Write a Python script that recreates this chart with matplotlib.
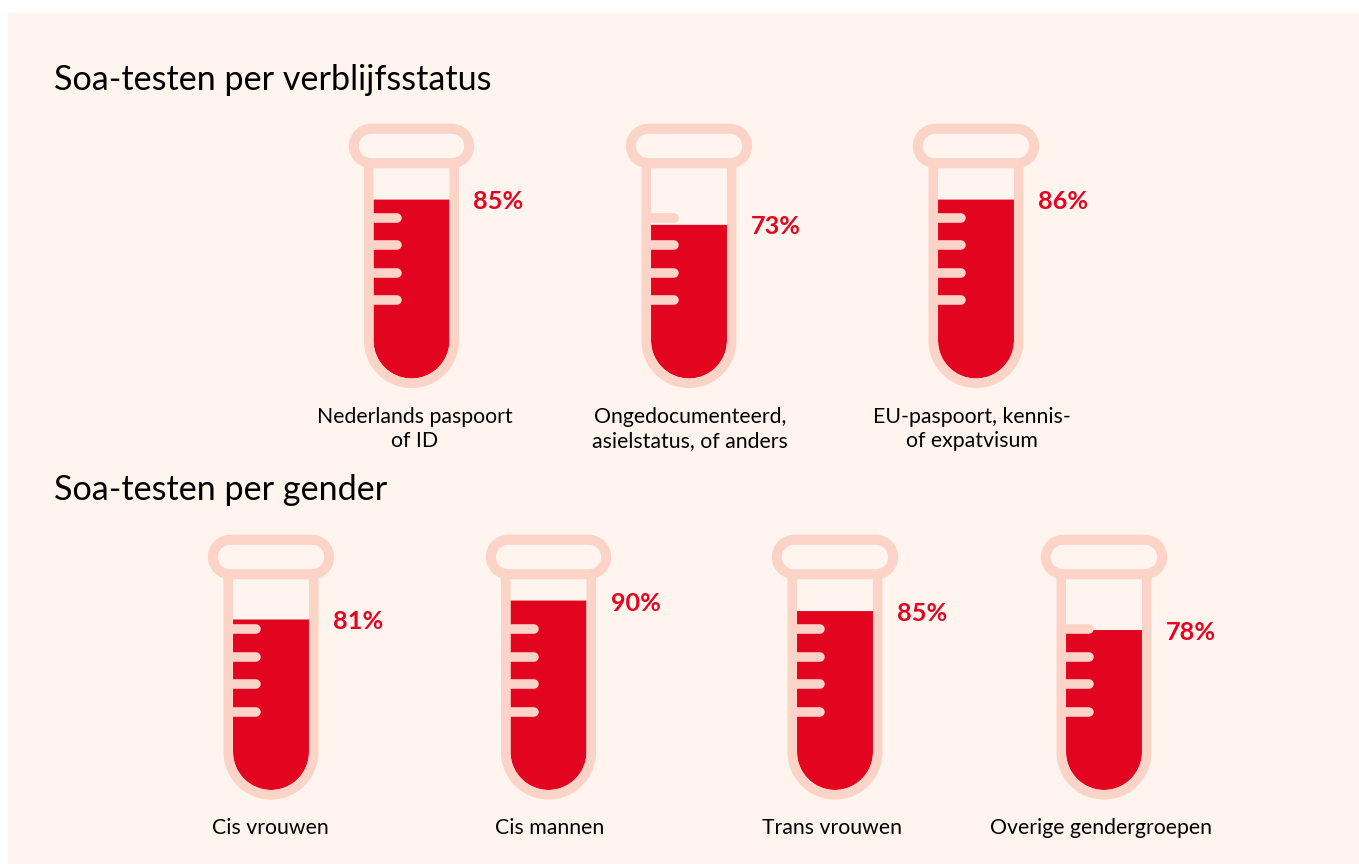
import matplotlib
matplotlib.use("Agg")
import matplotlib.pyplot as plt
from matplotlib.patches import PathPatch, Rectangle
from matplotlib.path import Path

plt.rcParams['font.family'] = ['Lato', 'DejaVu Sans']

# data
status_labels = ["Nederlands paspoort\nof ID", "Ongedocumenteerd,\nasielstatus, of anders", "EU-paspoort, kennis-\nof expatvisum"]
status_texts = ["85%", "73%", "86%"]
status_levels = [85, 73, 85]   # height of the red fill

gender_labels = ["Cis vrouwen", "Cis mannen", "Trans vrouwen", "Overige gendergroepen"]
gender_texts = ["81%", "90%", "85%", "78%"]
gender_levels = [81, 90, 85, 76]

# layout
status_x = [411.5, 689, 976]
status_label_x = [415, 690, 971.5]
gender_x = [271, 548.5, 835, 1104]
gender_label_x = [270, 550, 831.5, 1100.5]

BG = "#FFF4EE"
PINK = "#FBD3C7"
RED = "#E30420"

fig = plt.figure(figsize=(13.59, 8.64), dpi=100, facecolor="white")
ax = fig.add_axes([0, 0, 1, 1])
ax.set_xlim(0, 1359)
ax.set_ylim(864, 0)
ax.axis("off")

ax.add_patch(Rectangle((8, 13), 1351, 851, fc=BG, ec="none", zorder=0))


def u_shape(xc, top, bottom, r):
    # tube body: flat top, half circle bottom
    k = 0.5523 * r
    verts = [(xc - r, top), (xc - r, bottom - r),
             (xc - r, bottom - r + k), (xc - k, bottom), (xc, bottom),
             (xc + k, bottom), (xc + r, bottom - r + k), (xc + r, bottom - r),
             (xc + r, top), (xc - r, top)]
    codes = [Path.MOVETO, Path.LINETO, Path.CURVE4, Path.CURVE4, Path.CURVE4,
             Path.CURVE4, Path.CURVE4, Path.CURVE4, Path.LINETO, Path.CLOSEPOLY]
    return Path(verts, codes)


def tube(xc, level, text, dy, text_dy):
    bottom = 378.5 + dy
    r = 38
    fill_top = bottom - level * 2.105

    # red fill
    ax.add_patch(PathPatch(u_shape(xc, fill_top, bottom, r), fc=RED, ec="none", zorder=2))

    # walls
    verts = u_shape(xc, 165 + dy, bottom + 4.75, r + 4.75).vertices[:9]
    codes = [Path.MOVETO, Path.LINETO, Path.CURVE4, Path.CURVE4, Path.CURVE4,
             Path.CURVE4, Path.CURVE4, Path.CURVE4, Path.LINETO]
    ax.add_patch(PathPatch(Path(verts, codes), fc="none", ec=PINK, lw=6.9, capstyle="butt", zorder=3))

    # cap, thick line with round ends and a thinner one on top
    ax.plot([xc - 40.75, xc + 40.75], [145.75 + dy, 145.75 + dy], color=PINK, lw=32,
            solid_capstyle="round", zorder=4)
    ax.plot([xc - 40.75, xc + 40.75], [145.75 + dy, 145.75 + dy], color=BG, lw=17.6,
            solid_capstyle="round", zorder=5)

    # tick marks
    for ty in [217.5, 245, 272.5, 300]:
        ax.plot([xc - 38, xc - 15], [ty + dy, ty + dy], color=PINK, lw=6.9,
                solid_capstyle="round", zorder=3)

    ax.text(xc + 62, fill_top + text_dy, text, color=RED, fontsize=18.2, fontweight="bold",
            ha="left", va="center", zorder=6)


for x, lev, t in zip(status_x, status_levels, status_texts):
    tube(x, lev, t, 0, 1.5)
for x, lev, t in zip(gender_x, gender_levels, gender_texts):
    tube(x, lev, t, 411.5, 2.5)

for x, lab in zip(status_label_x, status_labels):
    ax.text(x, 429, lab, fontsize=15.3, color="black", ha="center", va="center", linespacing=1.28)
for x, lab in zip(gender_label_x, gender_labels):
    ax.text(x, 828, lab, fontsize=15.3, color="black", ha="center", va="center")

ax.text(54, 79.5, "Soa-testen per verblijfsstatus", fontsize=24.6, color="black", ha="left", va="center")
ax.text(54, 489.5, "Soa-testen per gender", fontsize=24.6, color="black", ha="left", va="center")

fig.savefig("out.png", dpi=100, facecolor="white")
